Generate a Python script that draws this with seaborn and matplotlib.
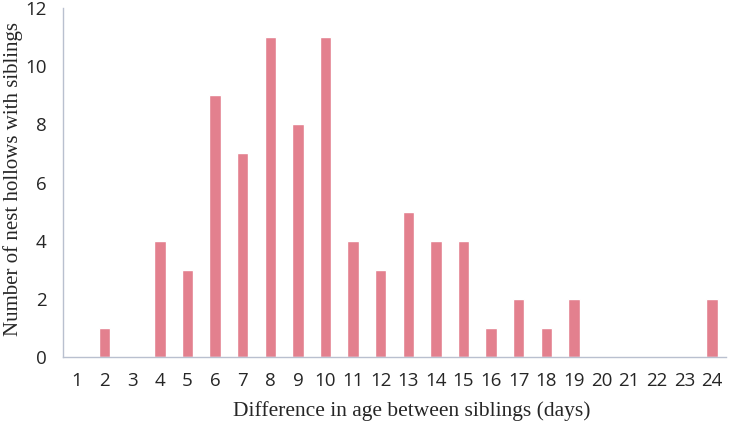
import matplotlib
matplotlib.use("Agg")
import matplotlib.pyplot as plt
import seaborn as sns
import pandas as pd

# difference in age between siblings (days) and number of nest hollows
days = [str(d) for d in range(1, 25)]
counts = [0, 1, 0, 4, 3, 9, 7, 11, 8, 11, 4, 3, 5, 4, 4, 1, 2, 1, 2, 0, 0, 0, 0, 2]
yticks = [0, 2, 4, 6, 8, 10, 12]

df = pd.DataFrame({"days": days, "count": counts})

sns.set_style("white")
axis_col = "#B9C0CF"

fig = plt.figure(figsize=(7.36, 4.22), dpi=100)
ax = fig.add_axes([0.086, 0.154, 0.9, 0.827])

sns.barplot(data=df, x="days", y="count", color="#E3808E", saturation=1,
            width=0.42, ax=ax)

ax.set_ylim(0, 12)
ax.set_xlim(-0.5, len(days) - 0.5)
ax.set_yticks(yticks)
ax.set_yticklabels([str(t) for t in yticks], family="Open Sans", fontsize=13.5)
ax.set_xticks(range(len(days)))
ax.set_xticklabels(days, family="Open Sans", fontsize=13.5)

# x ticks sit between categories, like the original
ax.set_xticks([i - 0.5 for i in range(len(days) + 1)], minor=True)
ax.tick_params(axis="x", which="major", length=0, pad=11)
ax.tick_params(axis="x", which="minor", length=5, color=axis_col, direction="out")
ax.tick_params(axis="y", length=5, color=axis_col, direction="out", pad=7)

for side in ["top", "right"]:
    ax.spines[side].set_visible(False)
for side in ["left", "bottom"]:
    ax.spines[side].set_color(axis_col)
    ax.spines[side].set_linewidth(1)

ax.set_xlabel("Difference in age between siblings (days)",
              family="Liberation Serif", fontsize=15.5, va="center")
ax.xaxis.set_label_coords(0.526, -0.155)
ax.set_ylabel("Number of nest hollows with siblings",
              family="Liberation Serif", fontsize=15, va="center")
ax.yaxis.set_label_coords(-0.076, 0.51)

fig.savefig("out.png", dpi=100)
